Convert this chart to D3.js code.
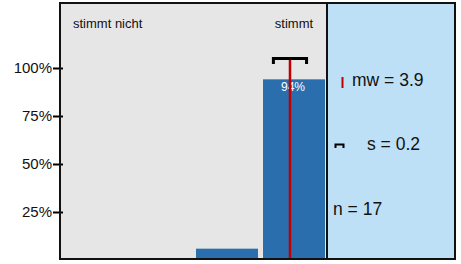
<!DOCTYPE html>
<html>
<head>
<meta charset="utf-8">
<script src="https://cdn.jsdelivr.net/npm/d3@7"></script>
<style>
  html, body { margin: 0; padding: 0; background: #fff; }
  svg { display: block; font-family: "Liberation Sans", Arial, sans-serif; }
</style>
</head>
<body>
<script>
// answer scale 1..4, only the ends carry a label
var categories = [1, 2, 3, 4];
var catLabels = ['stimmt nicht', '', '', 'stimmt'];
var shares = [0, 0, 0.059, 0.941];
var yTicks = [0.25, 0.5, 0.75, 1];
var meanValue = 3.94;
var sdValue = 0.24;
var nValue = 17;

var W = 461, H = 264;
var plotL = 60, plotT = 3, plotB = 259, split = 327, plotR = 455;

var svg = d3.select('body').append('svg')
    .attr('width', W)
    .attr('height', H);

var x = d3.scaleBand()
    .domain(categories)
    .range([plotL, split])
    .paddingInner(0.075)
    .paddingOuter(0.03);

// continuous version of the answer scale for mean and sd
var xv = d3.scaleLinear()
    .domain([1, 4])
    .range([x(1) + x.bandwidth() / 2, x(4) + x.bandwidth() / 2]);

var y = d3.scaleLinear()
    .domain([0, 1])
    .range([260, 68]);

// panels
svg.append('rect')
    .attr('x', plotL).attr('y', plotT)
    .attr('width', split - plotL).attr('height', plotB - plotT)
    .attr('fill', '#e6e6e6');
svg.append('rect')
    .attr('x', split).attr('y', plotT)
    .attr('width', plotR - split).attr('height', plotB - plotT)
    .attr('fill', '#bee0f7');

// bars
svg.selectAll('rect.bar')
    .data(categories)
    .enter().append('rect')
    .attr('class', 'bar')
    .attr('x', function(d) { return x(d); })
    .attr('y', function(d, i) { return y(shares[i]); })
    .attr('width', x.bandwidth())
    .attr('height', function(d, i) { return y(0) - y(shares[i]); })
    .attr('fill', '#2b6ead');

// percent labels for the big bars
svg.selectAll('text.pct')
    .data(categories.filter(function(d, i) { return shares[i] > 0.5; }))
    .enter().append('text')
    .attr('class', 'pct')
    .attr('x', function(d) { return x(d) + x.bandwidth() / 2 - 1; })
    .attr('y', function(d) { return y(shares[d - 1]) + 12; })
    .attr('text-anchor', 'middle')
    .attr('font-size', 12)
    .attr('fill', '#fff')
    .text(function(d) { return Math.round(shares[d - 1] * 100) + '%'; });

// category labels
svg.append('text')
    .attr('x', x(1) + 11)
    .attr('y', 28)
    .attr('font-size', 13)
    .attr('fill', '#111')
    .text(catLabels[0]);
svg.append('text')
    .attr('x', x(4) + x.bandwidth() / 2)
    .attr('y', 28)
    .attr('text-anchor', 'middle')
    .attr('font-size', 13)
    .attr('fill', '#111')
    .text(catLabels[3]);

// mean line + sd bracket
var mx = xv(meanValue);
var sx0 = xv(meanValue - sdValue) - 2, sx1 = xv(meanValue + sdValue) + 2;
svg.append('line')
    .attr('x1', mx).attr('x2', mx)
    .attr('y1', 59).attr('y2', plotB)
    .attr('stroke', '#c00000')
    .attr('stroke-width', 2.5);
svg.append('path')
    .attr('d', 'M' + (sx0 + 1.5) + ',64V58.5H' + (sx1 - 1.5) + 'V64')
    .attr('fill', 'none')
    .attr('stroke', '#000')
    .attr('stroke-width', 3);

// y axis
var yAxis = d3.axisLeft(y)
    .tickValues(yTicks)
    .tickSize(0)
    .tickPadding(8)
    .tickFormat(d3.format('.0%'));
var ga = svg.append('g')
    .attr('transform', 'translate(' + plotL + ',0)')
    .call(yAxis);
ga.select('.domain').remove();
ga.selectAll('text')
    .attr('font-size', 15)
    .attr('font-family', '"Liberation Sans", Arial, sans-serif')
    .attr('fill', '#111');
ga.selectAll('.tick').append('line')
    .attr('x1', -7).attr('x2', 3)
    .attr('stroke', '#000')
    .attr('stroke-width', 2);

// frame
svg.append('rect')
    .attr('x', plotL).attr('y', plotT)
    .attr('width', plotR - plotL).attr('height', plotB - plotT)
    .attr('fill', 'none')
    .attr('stroke', '#111')
    .attr('stroke-width', 2);
svg.append('line')
    .attr('x1', split).attr('x2', split)
    .attr('y1', plotT).attr('y2', plotB)
    .attr('stroke', '#111')
    .attr('stroke-width', 2);

// legend
var lg = svg.append('g').attr('font-size', 17.5).attr('fill', '#111');
lg.append('line')
    .attr('x1', 342.5).attr('x2', 342.5)
    .attr('y1', 77).attr('y2', 88)
    .attr('stroke', '#c00000')
    .attr('stroke-width', 2);
lg.append('text').attr('x', 352).attr('y', 86)
    .text('mw = ' + meanValue.toFixed(1));
lg.append('path')
    .attr('d', 'M335.5,148V144.5H343.5V148')
    .attr('fill', 'none')
    .attr('stroke', '#000')
    .attr('stroke-width', 2);
lg.append('text').attr('x', 367).attr('y', 150)
    .text('s = ' + sdValue.toFixed(1));
lg.append('text').attr('x', 333).attr('y', 215)
    .text('n = ' + nValue);
</script>
</body>
</html>
